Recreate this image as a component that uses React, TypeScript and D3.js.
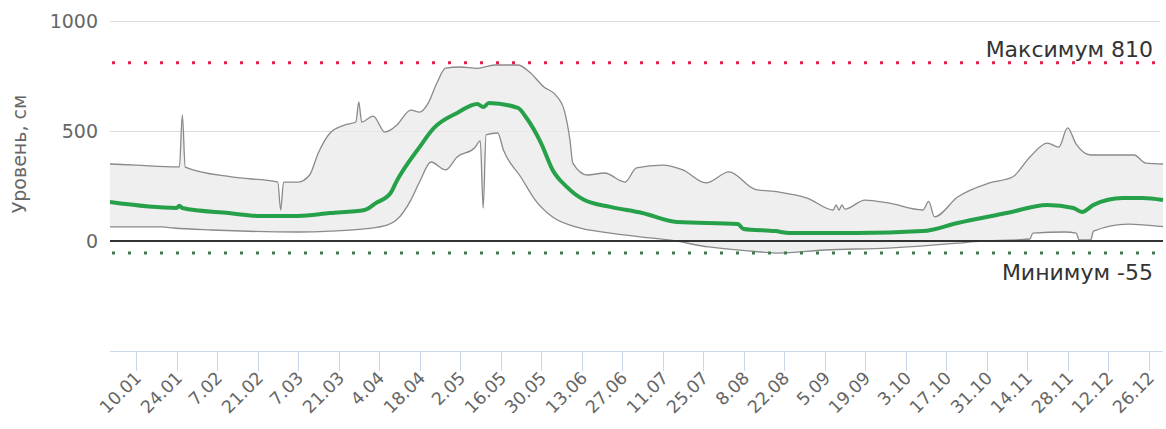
import React from 'react'
import * as d3 from 'd3'

// year is not shown on the chart; any non-leap year works for the day/month ticks
const YEAR = 2021

const tickLabels = ['10.01', '24.01', '7.02', '21.02', '7.03', '21.03', '4.04', '18.04', '2.05', '16.05', '30.05', '13.06',
  '27.06', '11.07', '25.07', '8.08', '22.08', '5.09', '19.09', '3.10', '17.10', '31.10', '14.11', '28.11', '12.12', '26.12']

const yTicks = [0, 500, 1000]

// upper edge of the range band (max level)
const upperDays = ['1.01', '10.01', '24.01', '25.01', '26.01', '27.01', '12.02', '28.02', '1.03', '2.03', '7.03', '11.03',
  '14.03', '18.03', '23.03', '27.03', '28.03', '29.03', '2.04', '6.04', '8.04', '10.04', '15.04', '18.04', '21.04', '24.04',
  '27.04', '2.05', '8.05', '14.05', '22.05', '26.05', '31.05', '4.06', '7.06', '9.06', '10.06', '15.06', '21.06', '28.06',
  '2.07', '11.07', '18.07', '26.07', '3.08', '12.08', '20.08', '30.08', '8.09', '9.09', '10.09', '11.09', '12.09', '19.09',
  '27.09', '9.10', '11.10', '13.10', '21.10', '1.11', '9.11', '15.11', '21.11', '25.11', '28.11', '1.12', '6.12', '21.12',
  '25.12', '31.12']
const upperValues = [350, 345, 337, 337, 573, 336, 291, 268, 141, 268, 268, 300,
  400, 490, 527, 541, 632, 541, 568, 495, 505, 525, 595, 586, 627, 718,
  786, 791, 785, 800, 800, 768, 700, 664, 595, 459, 354, 300, 309, 268,
  332, 345, 323, 264, 314, 235, 223, 195, 141, 164, 141, 164, 145, 186,
  173, 141, 180, 110, 200, 264, 291, 382, 445, 427, 514, 440, 391, 391,
  354, 350]

// lower edge of the range band (min level)
const lowerDays = ['1.01', '19.01', '23.01', '5.02', '7.03', '18.03', '30.03', '7.04', '10.04', '15.04', '18.04', '22.04',
  '27.04', '1.05', '7.05', '9.05', '10.05', '11.05', '15.05', '17.05', '23.05', '28.05', '3.06', '11.06', '23.06', '4.07',
  '13.07', '27.07', '14.08', '20.08', '5.09', '27.09', '21.10', '27.10', '15.11', '16.11', '27.11', '1.12', '2.12', '6.12',
  '7.12', '19.12', '31.12']
const lowerValues = [64, 64, 59, 50, 41, 45, 55, 73, 95, 186, 268, 359,
  323, 382, 423, 455, 150, 482, 491, 414, 291, 186, 109, 64, 36, 18,
  5, -27, -50, -55, -41, -32, -10, -3, 9, 36, 41, 36, 5, 5,
  45, 77, 65]

// average level
const avgDays = ['1.01', '24.01', '25.01', '26.01', '11.02', '22.02', '7.03', '18.03', '30.03', '3.04', '8.04', '10.04',
  '18.04', '23.04', '1.05', '8.05', '10.05', '12.05', '22.05', '25.05', '30.05', '3.06', '8.06', '14.06', '23.06', '4.07',
  '16.07', '6.08', '8.08', '19.08', '24.08', '16.09', '9.10', '21.10', '7.11', '21.11', '30.11', '3.12', '7.12', '17.12',
  '24.12', '31.12']
const avgValues = [177, 150, 160, 150, 127, 114, 114, 127, 141, 173, 218, 270,
  427, 514, 582, 623, 609, 627, 605, 559, 445, 323, 245, 186, 155, 127,
  86, 77, 55, 45, 36, 36, 45, 82, 127, 164, 150, 132, 164, 195,
  195, 186]

const maxLevel = 810
const minLevel = -55

const parseDay = (s: string) => d3.timeParse('%d.%m.%Y')(s + '.' + YEAR) as Date

const W = 1166
const H = 429
const FONT = '"DejaVu Sans", Verdana, sans-serif'

export default function App () {
  const x = d3.scaleTime()
    .domain([new Date(YEAR, 0, 1), new Date(YEAR, 11, 31)])
    .range([110, 1163])
  const y = d3.scaleLinear().domain([-500, 1000]).range([351, 21])

  const toPts = (days: string[], vals: number[]) => days.map((d, i) => [parseDay(d), vals[i]] as [Date, number])
  const upper = toPts(upperDays, upperValues)
  const lower = toPts(lowerDays, lowerValues)
  const avg = toPts(avgDays, avgValues)

  const line = d3.line<[Date, number]>()
    .x(d => x(d[0]))
    .y(d => y(d[1]))
    .curve(d3.curveMonotoneX)

  const upperPath = line(upper) || ''
  const lowerBack = line(lower.slice().reverse()) || ''
  const bandPath = upperPath + 'L' + lowerBack.slice(1) + 'Z'

  const ticks = tickLabels.map(parseDay)
  const x0 = 110
  const x1 = 1160

  return (
    <svg width={W} height={H} style={{ position: 'absolute', left: 0, top: 0, background: '#fff' }} fontFamily={FONT}>
      {/* grid */}
      {yTicks.filter(t => t !== 0).map(t => (
        <line key={t} x1={x0} x2={x1} y1={y(t) + 0.5} y2={y(t) + 0.5} stroke='#dcdcdc' strokeWidth={1} />
      ))}
      {yTicks.map(t => (
        <text key={'l' + t} x={98} y={y(t)} dy='0.35em' textAnchor='end' fontSize={19} fill='#666'>{t}</text>
      ))}
      <text transform={`translate(26,154) rotate(-90)`} textAnchor='middle' fontSize={19} fill='#666'>Уровень, см</text>

      {/* range band */}
      <path d={bandPath} fill='#e9e9e9' fillOpacity={0.75} stroke='none' />
      <path d={upperPath} fill='none' stroke='#8a8a8a' strokeWidth={1.3} />
      <path d={line(lower) || ''} fill='none' stroke='#8a8a8a' strokeWidth={1.3} />

      {/* zero line */}
      <line x1={x0} x2={1163} y1={y(0)} y2={y(0)} stroke='#333' strokeWidth={2} />

      {/* max / min lines */}
      <line x1={x0 + 2} x2={x1} y1={y(maxLevel)} y2={y(maxLevel)} stroke='#e0234e' strokeWidth={3} strokeDasharray='3,13' />
      <line x1={x0 + 2} x2={x1} y1={y(minLevel)} y2={y(minLevel)} stroke='#3f7a4f' strokeWidth={3} strokeDasharray='3,13' />
      <text x={1153} y={y(maxLevel) - 6} textAnchor='end' fontSize={22} fill='#333'>Максимум {maxLevel}</text>
      <text x={1153} y={y(minLevel) + 27} textAnchor='end' fontSize={22} fill='#333'>Минимум {minLevel}</text>

      {/* average */}
      <path d={line(avg) || ''} fill='none' stroke='#27a04a' strokeWidth={4} strokeLinejoin='round' />

      {/* x axis */}
      <line x1={x0} x2={1163} y1={y(-500) + 0.5} y2={y(-500) + 0.5} stroke='#ccd6eb' strokeWidth={1} />
      {ticks.map((t, i) => {
        const tx = Math.round(x(t)) + 0.5
        return (
          <g key={tickLabels[i]}>
            <line x1={tx} x2={tx} y1={y(-500)} y2={y(-500) + 20} stroke='#ccd6eb' strokeWidth={1} />
            <text transform={`translate(${tx + 6},${y(-500) + 28}) rotate(-45)`} textAnchor='end' fontSize={17.5} fill='#666'>
              {tickLabels[i]}
            </text>
          </g>
        )
      })}
    </svg>
  )
}
